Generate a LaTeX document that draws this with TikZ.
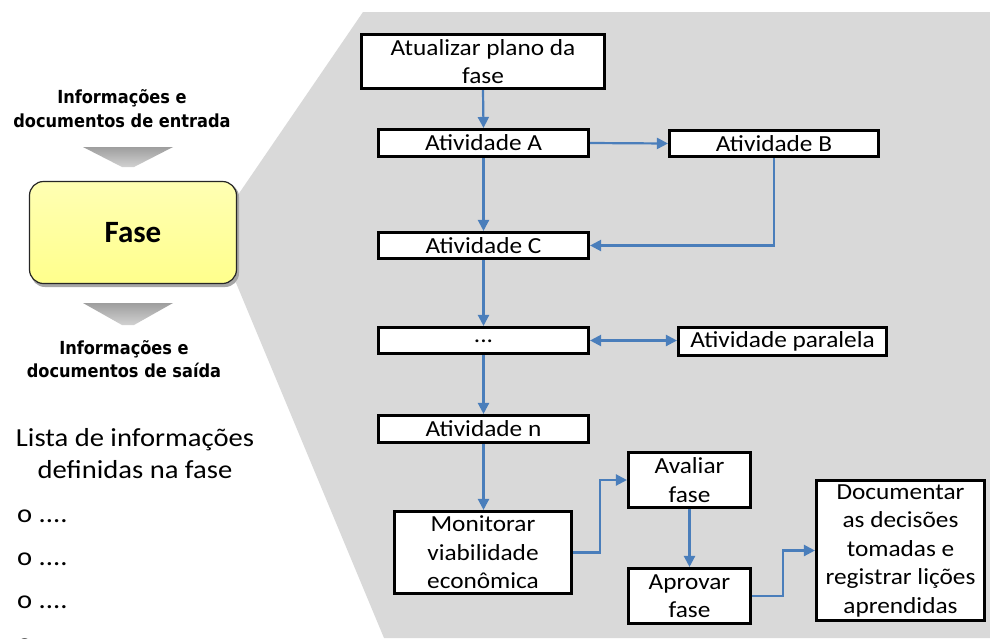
\documentclass[tikz,border=0pt]{standalone}
\usepackage{fontspec}
\setmainfont{Carlito}
\newfontfamily\boxfnt[FakeStretch=1.1]{Carlito}
\newfontfamily\hdrfnt{DejaVu Sans Condensed}
\usetikzlibrary{arrows.meta}
\definecolor{bgray}{HTML}{D9D9D9}
\definecolor{arrowblue}{HTML}{4A7EBB}
\definecolor{yeltop}{HTML}{FFFFB3}
\definecolor{yelbot}{HTML}{FFFF8C}
\tikzset{
  actbox/.style={draw=black, line width=2.6pt, fill=white, inner sep=0pt, align=center,
    font=\boxfnt\fontsize{23}{28.5}\selectfont},
  flow/.style={draw=arrowblue, line width=2.2pt, -{Triangle[length=11pt,width=11pt]}},
  flowboth/.style={draw=arrowblue, line width=2.2pt, {Triangle[length=11pt,width=11pt]}-{Triangle[length=11pt,width=11pt]}},
  hdr/.style={font=\hdrfnt\bfseries\fontsize{18}{23.5}\selectfont, align=center, inner sep=0pt},
  lst/.style={font=\boxfnt\fontsize{26}{32}\selectfont, align=center, inner sep=0pt},
  chev/.style={top color=black!38, bottom color=black!18, draw=none}
}
\begin{document}
\begin{tikzpicture}[x=1pt,y=-1pt]
\useasboundingbox (0,0) rectangle (990,638);
\clip (0,0) rectangle (990,638);
\fill[white] (0,0) rectangle (990,638);
% gray zoom-out region
\fill[bgray] (363,12) -- (990,12) -- (990,638) -- (384,638) -- (214,230) -- cycle;

% left column
\node[hdr] (inhdr) at (122,108.5) {Informações e\\documentos de entrada};
\shade[chev] (83,147) -- (173,147) -- (134,167) -- (122,167) -- cycle;
\fill[black!35, rounded corners=14pt] (31,183) rectangle (239,287);
\node[draw=black!85, line width=1.2pt, rounded corners=14pt, top color=yeltop, bottom color=yelbot,
  minimum width=207pt, minimum height=102pt, inner sep=0pt,
  font=\bfseries\fontsize{31}{36}\selectfont] (fase) at (133,232.5) {Fase};
\shade[chev] (83,303) -- (173,303) -- (134,325) -- (122,325) -- cycle;
\node[hdr] (outhdr) at (124,359) {Informações e\\documentos de saída};
\node[lst] (lista) at (135,454) {Lista de informações\\definidas na fase};
\node[lst, anchor=west] (b1) at (17,516) {o ....};
\node[lst, anchor=west] (b2) at (17,559) {o ....};
\node[lst, anchor=west] (b3) at (17,602) {o ....};
\node[lst, anchor=west] (b4) at (17,645) {o ....};

% flow boxes
\node[actbox, minimum width=243.5pt, minimum height=54.5pt] (atual) at (483,61.5) {Atualizar plano da\\fase};
\node[actbox, minimum width=210.5pt, minimum height=27.5pt] (A) at (483.5,143) {Atividade A};
\node[actbox, minimum width=209.5pt, minimum height=26.5pt] (B) at (774,143.5) {Atividade B};
\node[actbox, minimum width=210.5pt, minimum height=26.5pt] (C) at (483.5,245.5) {Atividade C};
\node[actbox, minimum width=210.5pt, minimum height=26.5pt] (dots) at (483.5,340.5) {\raisebox{-4pt}{...}};
\node[actbox, minimum width=208.5pt, minimum height=28.5pt] (par) at (782.5,341.5) {Atividade paralela};
\node[actbox, minimum width=210.5pt, minimum height=27.5pt] (n) at (483.5,429) {Atividade n};
\node[actbox, minimum width=177.5pt, minimum height=82.5pt] (mon) at (483,552.5) {Monitorar\\viabilidade\\econômica};
\node[actbox, minimum width=122.5pt, minimum height=55.5pt] (aval) at (689.5,480) {Avaliar\\fase};
\node[actbox, minimum width=122.5pt, minimum height=55.5pt] (apro) at (689.5,596) {Aprovar\\fase};
\node[actbox, minimum width=168.5pt, minimum height=140.5pt] (doc) at (900.5,550.5) {Documentar\\as decisões\\tomadas e\\registrar lições\\aprendidas};

% connectors
\draw[flow] (atual.south) -- (A.north);
\draw[flow] (A.east) -- (B.west);
\draw[flow] (A.south) -- (C.north);
\draw[flow] (B.south) |- (C.east);
\draw[flow] (C.south) -- (dots.north);
\draw[flowboth] (dots.east) -- (dots.east -| par.west);
\draw[flow] (dots.south) -- (n.north);
\draw[flow] (n.south) -- (n.south |- mon.north);
\draw[flow] (mon.east) -- ++(27,0) |- (aval.west);
\draw[flow] (aval.south) -- (apro.north);
\draw[flow] (apro.east) -- ++(31,0) |- (doc.west);
\end{tikzpicture}
\end{document}
